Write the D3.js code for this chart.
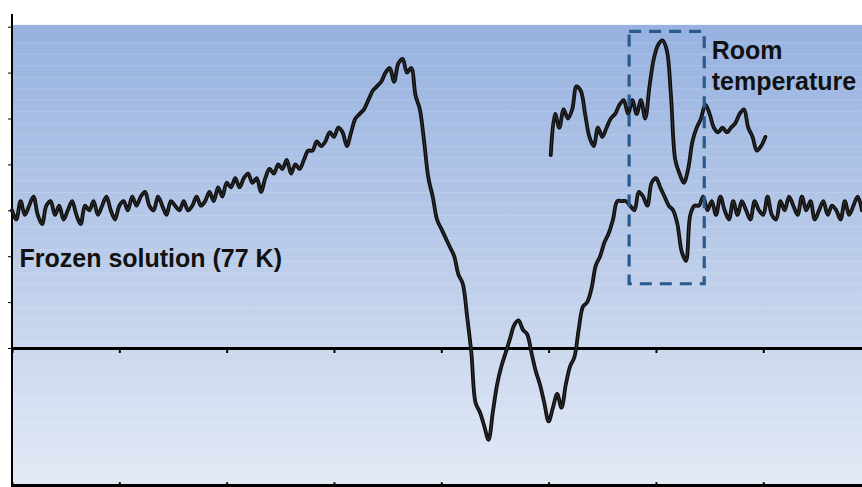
<!DOCTYPE html>
<html>
<head>
<meta charset="utf-8">
<script src="https://cdn.jsdelivr.net/npm/d3@7"></script>
<style>
  html, body { margin: 0; padding: 0; background: #ffffff; }
  svg { display: block; }
  text { font-family: "Liberation Sans", Arial, sans-serif; font-weight: bold; }
</style>
</head>
<body>
<svg id="chart" width="862" height="487"></svg>
<script>
// ---------------- DATA ----------------
// Field axis (arbitrary units), tick marks every 100 units, no labels
const xTicks = [0, 100, 200, 300, 400, 500, 600, 700];
// Intensity axis (arbitrary units), tick marks every 10 units, no labels
const yTicks = [0, 10, 20, 30, 40, 50, 60, 70];

// Frozen solution (77 K) spectrum: sampled every 4 field units starting at 0
const frozenStart = 0;
const frozenStep = 4;
const frozenValues = [
  30, 28, 32, 29, 31, 33, 29, 27, 31, 32,
  29, 31, 28, 30, 32, 29, 27, 31, 30, 32,
  29, 31, 33, 30, 28, 31, 32, 30, 33, 31,
  33, 34, 31, 30, 33, 31, 29, 32, 31, 30,
  32, 30, 31, 33, 31, 32, 34, 32, 35, 33,
  36, 35, 37, 35, 37, 38, 36, 37, 34, 37,
  39, 38, 40, 39, 41, 38, 40, 39, 41, 43,
  43, 45, 44, 45, 47, 46, 48, 47, 44, 47,
  50, 51, 52, 54, 56, 57, 58, 60, 61, 58,
  62, 63, 60, 61, 55, 52, 45, 37, 33, 28,
  26, 24, 22, 20, 16, 14, 7, -1, -12, -14,
  -17, -20, -14, -8, -4, -1, 2, 5, 6, 4,
  3, -1, -5, -8, -12, -16, -13, -10, -13, -8,
  -4, -2, 4, 9, 10, 13, 18, 20, 23, 25,
  28, 32, 32, 32, 31, 30, 34, 33, 31, 36,
  37, 35, 33, 31, 30, 27, 21, 19, 29, 31,
  31, 33, 30, 32, 29, 33, 30, 28, 32, 29,
  32, 30, 28, 32, 30, 29, 33, 29, 28, 32,
  30, 33, 31, 29, 33, 30, 32, 28, 30, 32,
  29, 31, 30, 28, 32, 29, 31, 33, 30
];

// Room temperature spectrum: sampled every 4 field units starting at 502
const roomStart = 502;
const roomStep = 4;
const roomValues = [
  42, 51, 48, 52, 50, 52, 57, 56, 51, 46,
  44, 48, 46, 48, 50, 51, 53, 54, 51, 54,
  51, 54, 50, 57, 63, 66, 67, 65, 55, 41,
  38, 36, 39, 45, 48, 50, 53, 51, 48, 47,
  48, 47, 48, 49, 51, 52, 48, 46, 43, 44,
  46
];

// Highlighted region (dashed box), in data units
const boxX = [575, 645];
const boxY = [14, 69];

// Labels
const labels = [
  { lines: ["Frozen solution (77 K)"], x: 7, y: 17.6 },
  { lines: ["Room", "temperature"], x: 652, y: 63 }
];

// ---------------- LAYOUT ----------------
const W = 862, H = 487;
const svg = d3.select("#chart");

const x = d3.scaleLinear().domain([0, 792]).range([12, 862]);
const y = d3.scaleLinear().domain([-30, 70]).range([485.7, 26.7]);

const defs = svg.append("defs");
const grad = defs.append("linearGradient")
  .attr("id", "bg").attr("x1", 0).attr("y1", 0).attr("x2", 0).attr("y2", 1);
grad.append("stop").attr("offset", "0%").attr("stop-color", "#97b2e0");
grad.append("stop").attr("offset", "45%").attr("stop-color", "#b7c9e8");
grad.append("stop").attr("offset", "100%").attr("stop-color", "#e3eaf6");

const plotTop = y(70.4), plotBottom = H;
svg.append("rect")
  .attr("x", x(0)).attr("y", plotTop)
  .attr("width", x(792) - x(0)).attr("height", plotBottom - plotTop)
  .attr("fill", "url(#bg)");

// faint banding lines in the background
const bands = d3.range(plotTop + 18, plotBottom, 11.5);
svg.append("g").selectAll("line").data(bands).join("line")
  .attr("x1", x(0)).attr("x2", x(792))
  .attr("y1", d => d).attr("y2", d => d)
  .attr("stroke", "#ffffff").attr("stroke-opacity", 0.16).attr("stroke-width", 1);

// Left axis
const leftAxis = d3.axisLeft(y).tickValues(yTicks).tickSize(4).tickSizeOuter(0).tickFormat("");
const gLeft = svg.append("g").attr("transform", `translate(${x(0)},0)`).call(leftAxis);
gLeft.select(".domain").remove();
gLeft.selectAll(".tick line").attr("stroke", "#000").attr("stroke-width", 1);
svg.append("line")
  .attr("x1", x(0)).attr("x2", x(0)).attr("y1", 14).attr("y2", H)
  .attr("stroke", "#000").attr("stroke-width", 2);

// Zero line axis with ticks below
const zeroAxis = d3.axisBottom(x).tickValues(xTicks).tickSize(5).tickSizeOuter(0).tickFormat("");
const gZero = svg.append("g").attr("transform", `translate(0,${y(0)})`).call(zeroAxis);
gZero.select(".domain").attr("stroke", "#000").attr("stroke-width", 3);
gZero.selectAll(".tick line").attr("stroke", "#000").attr("stroke-width", 2);

// Bottom axis
const botAxis = d3.axisTop(x).tickValues(xTicks).tickSize(3).tickSizeOuter(0).tickFormat("");
const gBot = svg.append("g").attr("transform", `translate(0,${y(-30) - 0.5})`).call(botAxis);
gBot.select(".domain").attr("stroke", "#000").attr("stroke-width", 3.5);
gBot.selectAll(".tick line").attr("stroke", "#000").attr("stroke-width", 2);

// Spectra
const frozen = frozenValues.map((v, i) => [frozenStart + i * frozenStep, v]);
const room = roomValues.map((v, i) => [roomStart + i * roomStep, v]);
const line = d3.line().x(d => x(d[0])).y(d => y(d[1])).curve(d3.curveCatmullRom.alpha(0.5));

[frozen, room].forEach(data => {
  svg.append("path").datum(data)
    .attr("d", line).attr("fill", "none")
    .attr("stroke", "#0d0d0d").attr("stroke-width", 3.8)
    .attr("stroke-linejoin", "round").attr("stroke-linecap", "round");
  svg.append("path").datum(data)
    .attr("d", line).attr("fill", "none")
    .attr("stroke", "#6f6f6f").attr("stroke-width", 0.7).attr("stroke-opacity", 0.6)
    .attr("stroke-linejoin", "round");
});

// Dashed highlight box
svg.append("rect")
  .attr("x", x(boxX[0])).attr("y", y(boxY[1]))
  .attr("width", x(boxX[1]) - x(boxX[0]))
  .attr("height", y(boxY[0]) - y(boxY[1]))
  .attr("fill", "none")
  .attr("stroke", "#285a8e").attr("stroke-width", 3.2)
  .attr("stroke-dasharray", "12,8");

// Labels
labels.forEach(l => {
  const t = svg.append("text")
    .attr("x", x(l.x)).attr("y", y(l.y))
    .attr("font-size", "25px").attr("fill", "#111");
  l.lines.forEach((s, i) => {
    t.append("tspan").attr("x", x(l.x)).attr("dy", i === 0 ? 0 : 31).text(s);
  });
});
</script>
</body>
</html>
